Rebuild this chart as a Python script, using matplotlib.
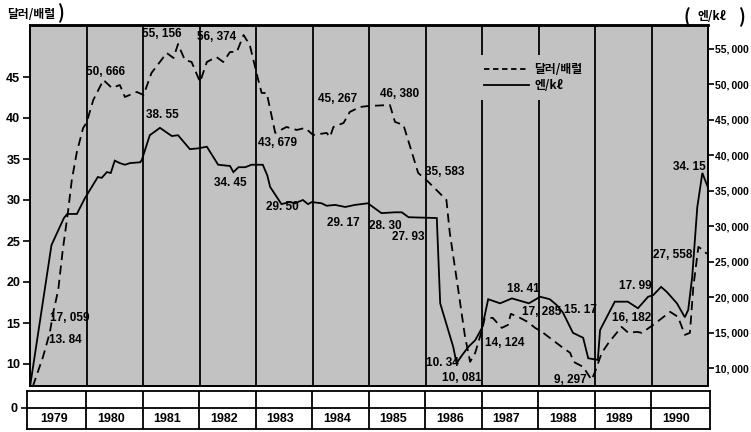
import matplotlib
matplotlib.use('Agg')
import matplotlib.pyplot as plt
from matplotlib.lines import Line2D

# ---------------- data ----------------
years = list(range(1979, 1991))

# dollars per barrel (solid line, left axis)
usd_t = [1979.00, 1979.38, 1979.60, 1979.66, 1979.83, 1979.97, 1980.20, 1980.27, 1980.36, 1980.43,
         1980.50, 1980.59, 1980.68, 1980.77, 1980.95, 1980.98, 1981.12, 1981.30, 1981.51, 1981.62,
         1981.83, 1981.98, 1982.13, 1982.33, 1982.54, 1982.60, 1982.69, 1982.81, 1982.92, 1983.12,
         1983.20, 1983.25, 1983.45, 1983.60, 1983.69, 1983.83, 1983.92, 1983.99, 1984.16, 1984.25,
         1984.40, 1984.58, 1984.75, 1984.98, 1985.22, 1985.46, 1985.58, 1985.70, 1986.20, 1986.26,
         1986.49, 1986.55, 1986.65, 1986.76, 1986.88, 1987.00, 1987.11, 1987.32, 1987.53, 1987.83,
         1988.03, 1988.20, 1988.32, 1988.43, 1988.61, 1988.79, 1988.88, 1989.05, 1989.09, 1989.35,
         1989.58, 1989.76, 1989.94, 1990.03, 1990.17, 1990.27, 1990.45, 1990.59, 1990.65, 1990.72,
         1990.81, 1990.90, 1991.00]
usd_v = [7.2, 24.5, 27.8, 28.3, 28.3, 30.2, 32.8, 32.7, 33.4, 33.3,
         34.8, 34.5, 34.3, 34.5, 34.6, 34.9, 37.9, 38.8, 37.8, 37.9,
         36.2, 36.3, 36.5, 34.3, 34.15, 33.4, 34.0, 34.0, 34.3, 34.3,
         33.0, 31.6, 29.5, 29.75, 29.6, 30.0, 29.5, 29.75, 29.6, 29.3,
         29.4, 29.15, 29.4, 29.6, 28.4, 28.5, 28.5, 27.9, 27.8, 17.4,
         12.1, 10.1, 11.1, 12.1, 12.9, 14.4, 17.9, 17.4, 18.0, 17.4,
         18.2, 17.9, 17.2, 16.3, 13.8, 13.2, 10.7, 10.5, 14.15, 17.6,
         17.6, 16.8, 18.2, 18.4, 19.4, 18.8, 17.4, 15.7, 16.6, 20.6,
         29.1, 33.3, 31.5]

# yen per kl (dashed line, right axis)
yen_t = [1979.05, 1979.23, 1979.35, 1979.41, 1979.50, 1979.58, 1979.67, 1979.74, 1979.83, 1979.94,
         1980.00, 1980.12, 1980.30, 1980.45, 1980.59, 1980.68, 1980.89, 1981.01, 1981.15, 1981.42,
         1981.54, 1981.62, 1981.74, 1981.86, 1982.01, 1982.13, 1982.30, 1982.42, 1982.54, 1982.66,
         1982.78, 1982.89, 1983.04, 1983.10, 1983.19, 1983.34, 1983.54, 1983.72, 1983.87, 1984.01,
         1984.25, 1984.31, 1984.37, 1984.55, 1984.66, 1984.84, 1984.99, 1985.37, 1985.46, 1985.61,
         1985.87, 1986.05, 1986.37, 1986.43, 1986.58, 1986.70, 1986.79, 1986.88, 1987.00, 1987.05,
         1987.19, 1987.35, 1987.46, 1987.51, 1987.64, 1987.81, 1987.94, 1988.06, 1988.41, 1988.56,
         1988.62, 1988.79, 1988.94, 1989.00, 1989.12, 1989.24, 1989.47, 1989.59, 1989.74, 1989.83,
         1990.03, 1990.33, 1990.47, 1990.59, 1990.68, 1990.74, 1990.83, 1990.91, 1990.98]
yen_v = [7400, 11570, 14960, 17780, 21020, 26660, 31880, 36530, 40480, 43860,
         44570, 47810, 50630, 49500, 49920, 48230, 48940, 48510, 51620, 54440,
         53730, 55700, 53450, 53170, 50350, 53170, 53870, 53170, 54580, 54580,
         56970, 55560, 50630, 48800, 48800, 43160, 44000, 43580, 43860, 42870,
         43160, 42590, 44000, 44570, 46120, 46820, 46960, 47100, 44710, 44280,
         37520, 36250, 33710, 29060, 21020, 14390, 10870, 12140, 15380, 17070,
         17070, 15660, 16080, 17640, 17210, 16500, 15660, 15100, 12980, 12140,
         10870, 10160, 8330, 9460, 12140, 13550, 15800, 14960, 15100, 14960,
         16080, 17920, 17210, 14670, 14960, 21440, 27080, 26660, 26100]

left_ticks = [10, 15, 20, 25, 30, 35, 40, 45]
right_ticks = [10000, 15000, 20000, 25000, 30000, 35000, 40000, 45000, 50000, 55000]

legend_labels = ['달러/배럴', '엔/kℓ']
left_unit = '달러/배럴'
right_unit = '엔/kℓ'

annot_texts = ['17, 059', '13. 84', '50, 666', '55, 156', '56, 374', '38. 55', '34. 45',
               '43, 679', '29. 50', '45, 267', '29. 17', '46, 380', '28. 30', '27. 93',
               '35, 583', '10. 34', '10, 081', '14, 124', '18. 41', '17, 285', '15. 17',
               '9, 297', '17. 99', '16, 182', '27, 558', '34. 15']

# ---------------- layout / style ----------------
W, H = 751, 432
BG = '#c2c2c2'
NUM = ['Liberation Sans Narrow', 'Liberation Sans', 'DejaVu Sans']
KR = ['Noto Sans CJK KR', 'DejaVu Sans']
annot_px = [(70, 318), (65, 340), (105, 72), (162, 34), (217, 37), (162, 115), (230, 183),
            (277, 143), (282, 207), (338, 99), (343, 223), (400, 94), (385, 226), (408, 237),
            (445, 172), (442, 363), (462, 378), (505, 343), (523, 289), (542, 312), (580, 310),
            (570, 380), (635, 286), (632, 318), (673, 255), (689, 167)]

fig = plt.figure(figsize=(W / 100, H / 100), dpi=100)
fig.patch.set_facecolor('white')

ax = fig.add_axes([30 / W, 1 - 386 / H, 678 / W, 361 / H])
ax.set_facecolor(BG)
ax.set_xlim(years[0], years[-1] + 1)
ax.set_ylim(10 - 22 / 8.2, 45 + 52 / 8.2)
for y in years[1:]:
    ax.axvline(y, color='black', lw=1.3, zorder=1)
ax.plot(usd_t, usd_v, color='black', lw=1.3, zorder=3, solid_joinstyle='miter')
ax.set_xticks([])
ax.set_yticks(left_ticks)
ax.set_yticklabels([str(v) for v in left_ticks])
ax.tick_params(axis='y', direction='out', length=5, width=1.2, pad=2)
for lbl in ax.get_yticklabels():
    lbl.set_fontfamily(NUM)
    lbl.set_fontweight('bold')
    lbl.set_fontsize(9)
for s in ax.spines.values():
    s.set_linewidth(1.3)
ax.spines['top'].set_linewidth(1.8)

ax2 = ax.twinx()
k = 319 / 45000
ax2.set_ylim(10000 - 18 / k, 55000 + 24 / k)
ax2.plot(yen_t, yen_v, color='black', lw=1.3, linestyle=(0, (5, 3)), zorder=3)
ax2.set_yticks(right_ticks)
ax2.set_yticklabels([f'{v:,}'.replace(',', ',\u2009') for v in right_ticks])
ax2.tick_params(axis='y', direction='out', length=4, width=1.2, pad=1.2)
for lbl in ax2.get_yticklabels():
    lbl.set_fontfamily(NUM)
    lbl.set_fontweight('bold')
    lbl.set_fontsize(7.5)
for s in ax2.spines.values():
    s.set_linewidth(1.3)
ax2.spines['top'].set_linewidth(1.8)

handles = [Line2D([], [], color='black', lw=1.3, linestyle=(0, (3, 2))),
           Line2D([], [], color='black', lw=1.3)]
leg = ax2.legend(handles, legend_labels, loc='upper left', bbox_to_anchor=(0.657, 0.918),
                 borderaxespad=0, borderpad=0.7, handlelength=3.8, handletextpad=0.5,
                 labelspacing=0.25, frameon=True, fancybox=False,
                 prop={'family': KR, 'weight': 'bold', 'size': 8.5})
leg.get_frame().set_facecolor(BG)
leg.get_frame().set_edgecolor('none')
leg.get_frame().set_alpha(1)

# annotations
for txt, (px_, py_) in zip(annot_texts, annot_px):
    fig.text(px_ / W, 1 - py_ / H, txt, ha='center', va='center', fontsize=8.5,
             fontweight='bold', family=NUM, zorder=5)

# unit labels
fig.text(7 / W, 1 - 15 / H, left_unit, ha='left', va='center', fontsize=8.5,
         fontweight='bold', family=KR)
fig.text(60 / W, 1 - 13 / H, ')', ha='center', va='center', fontsize=13,
         fontweight='bold', family=KR)
fig.text(687 / W, 1 - 17 / H, '(', ha='center', va='center', fontsize=13,
         fontweight='bold', family=KR)
fig.text(712 / W, 1 - 17 / H, right_unit, ha='center', va='center', fontsize=8.5,
         fontweight='bold', family=KR)
fig.text(741 / W, 1 - 17 / H, ')', ha='center', va='center', fontsize=13,
         fontweight='bold', family=KR)

# bottom year box (broken axis with 0)
bx = fig.add_axes([27 / W, 1 - 429 / H, 683 / W, 38 / H])
bx.set_facecolor('white')
bx.set_xlim(years[0] - 3 / 56.5, years[-1] + 1 + 2 / 56.5)
bx.set_ylim(-21, 17)
for y in years[1:]:
    bx.axvline(y, color='black', lw=1.3)
bx.axhline(0, color='black', lw=1.3)
bx.set_xticks([])
bx.set_yticks([0])
bx.set_yticklabels(['0'])
bx.tick_params(axis='y', direction='out', length=4, width=1.2, pad=3)
for lbl in bx.get_yticklabels():
    lbl.set_fontfamily(NUM)
    lbl.set_fontweight('bold')
    lbl.set_fontsize(9)
for s in bx.spines.values():
    s.set_linewidth(1.3)
for y in years:
    bx.text(y + 0.43, -10.5, str(y), ha='center', va='center', fontsize=9,
            fontweight='bold', family=NUM)

fig.savefig('out.png', dpi=100, facecolor='white')
